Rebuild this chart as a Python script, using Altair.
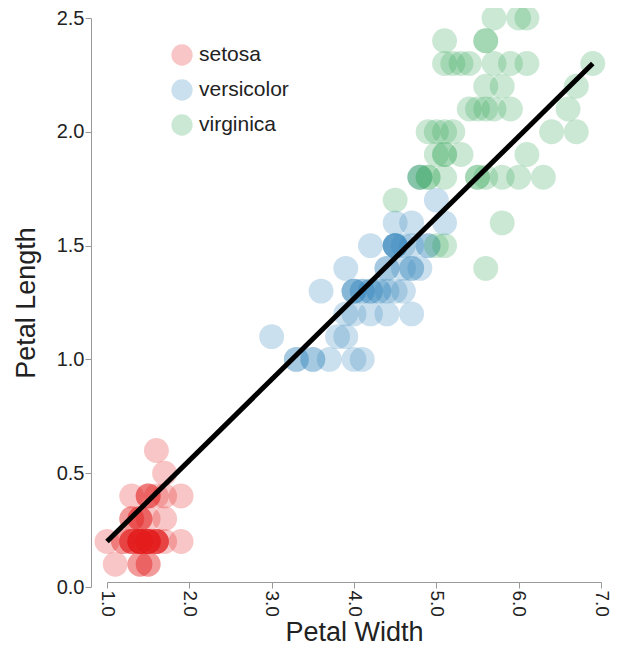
import altair as alt
import pandas as pd

setosa_len = [1.4,1.4,1.3,1.5,1.4,1.7,1.4,1.5,1.4,1.5,1.5,1.6,1.4,1.1,1.2,1.5,1.3,1.4,1.7,1.5,
              1.7,1.5,1.0,1.7,1.9,1.6,1.6,1.5,1.4,1.6,1.6,1.5,1.5,1.4,1.5,1.2,1.3,1.4,1.3,1.5,
              1.3,1.3,1.3,1.6,1.9,1.4,1.6,1.4,1.5,1.4]
setosa_wid = [0.2,0.2,0.2,0.2,0.2,0.4,0.3,0.2,0.2,0.1,0.2,0.2,0.1,0.1,0.2,0.4,0.4,0.3,0.3,0.3,
              0.2,0.4,0.2,0.5,0.2,0.2,0.4,0.2,0.2,0.2,0.2,0.4,0.1,0.2,0.2,0.2,0.2,0.1,0.2,0.2,
              0.3,0.3,0.2,0.6,0.4,0.3,0.2,0.2,0.2,0.2]
versi_len = [4.7,4.5,4.9,4.0,4.6,4.5,4.7,3.3,4.6,3.9,3.5,4.2,4.0,4.7,3.6,4.4,4.5,4.1,4.5,3.9,
             4.8,4.0,4.9,4.7,4.3,4.4,4.8,5.0,4.5,3.5,3.8,3.7,3.9,5.1,4.5,4.5,4.7,4.4,4.1,4.0,
             4.4,4.6,4.0,3.3,4.2,4.2,4.2,4.3,3.0,4.1]
versi_wid = [1.4,1.5,1.5,1.3,1.5,1.3,1.6,1.0,1.3,1.4,1.0,1.5,1.0,1.4,1.3,1.4,1.5,1.0,1.5,1.1,
             1.8,1.3,1.5,1.2,1.3,1.4,1.4,1.7,1.5,1.0,1.1,1.0,1.2,1.6,1.5,1.6,1.5,1.3,1.3,1.3,
             1.2,1.4,1.2,1.0,1.3,1.2,1.3,1.3,1.1,1.3]
virg_len = [6.0,5.1,5.9,5.6,5.8,6.6,4.5,6.3,5.8,6.1,5.1,5.3,5.5,5.0,5.1,5.3,5.5,6.7,6.9,5.0,
            5.7,4.9,6.7,4.9,5.7,6.0,4.8,4.9,5.6,5.8,6.1,6.4,5.6,5.1,5.6,6.1,5.6,5.5,4.8,5.4,
            5.6,5.1,5.1,5.9,5.7,5.2,5.0,5.2,5.4,5.1]
virg_wid = [2.5,1.9,2.1,1.8,2.2,2.1,1.7,1.8,1.8,2.5,2.0,1.9,2.1,2.0,2.4,2.3,1.8,2.2,2.3,1.5,
            2.3,2.0,2.0,1.8,2.1,1.8,1.8,1.8,2.1,1.6,1.9,2.0,2.2,1.5,1.4,2.3,2.4,1.8,1.8,2.1,
            2.4,2.3,1.9,2.3,2.5,2.3,1.9,2.0,2.3,1.8]

species = ["setosa", "versicolor", "virginica"]
colors = ["#e41a1c", "#3182bd", "#31a354"]

line_x = [1.0, 6.9]
line_y = [0.2, 2.3]

x_ticks = [1.0, 2.0, 3.0, 4.0, 5.0, 6.0, 7.0]
y_ticks = [0.0, 0.5, 1.0, 1.5, 2.0, 2.5]

rows = []
for sp, L, W in zip(species, [setosa_len, versi_len, virg_len], [setosa_wid, versi_wid, virg_wid]):
    for a, b in zip(L, W):
        rows.append({"len": a, "wid": b, "species": sp})
df = pd.DataFrame(rows)
line_df = pd.DataFrame({"len": line_x, "wid": line_y})

FONT = "Liberation Sans"

xscale = alt.Scale(domain=[1.0, 7.0], nice=False, zero=False)
yscale = alt.Scale(domain=[0.0, 2.5], nice=False)

xaxis = alt.Axis(title="Petal Width", values=x_ticks, format=".1f", labelAngle=90,
                 labelAlign="left", labelBaseline="middle", grid=False,
                 labelFontSize=19, titleFontSize=27, titleFontWeight="normal",
                 labelColor="#222", titleColor="#222", domainColor="#999", tickColor="#999",
                 tickSize=6, labelPadding=2, titlePadding=3, labelFont=FONT, titleFont=FONT,
                 offset=-5, labelFlush=False)
yaxis = alt.Axis(title="Petal Length", values=y_ticks, format=".1f", grid=False,
                 labelFontSize=20, titleFontSize=27, titleFontWeight="normal",
                 labelColor="#222", titleColor="#222", domainColor="#999", tickColor="#999",
                 tickSize=6, labelPadding=1, titlePadding=16, labelFont=FONT, titleFont=FONT,
                 offset=16, labelFlush=False)

points = alt.Chart(df).mark_circle(size=620, opacity=0.25).encode(
    x=alt.X("len:Q", scale=xscale, axis=xaxis),
    y=alt.Y("wid:Q", scale=yscale, axis=yaxis),
    color=alt.Color("species:N", scale=alt.Scale(domain=species, range=colors),
                    legend=alt.Legend(title=None, orient="none", legendX=64, legendY=26,
                                      symbolType="circle", symbolSize=452, symbolOpacity=0.25,
                                      symbolStrokeWidth=0, labelFontSize=21, labelFont=FONT,
                                      labelColor="#222", rowPadding=13, labelOffset=6,
                                      padding=0)),
)

line = alt.Chart(line_df).mark_line(color="black", strokeWidth=5).encode(
    x=alt.X("len:Q", scale=xscale),
    y=alt.Y("wid:Q", scale=yscale),
)

chart = alt.layer(points, line).properties(
    width=494, height=569,
    autosize=alt.AutoSizeParams(type="none"),
    padding={"left": 99, "top": 10, "right": 10, "bottom": 60},
).configure_view(stroke=None)

chart.save("out.html", embed_options={"renderer": "svg", "actions": False})
